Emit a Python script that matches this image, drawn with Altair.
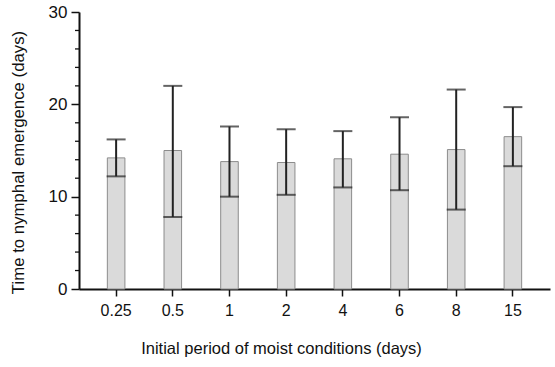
import altair as alt
import pandas as pd

periods = ["0.25", "0.5", "1", "2", "4", "6", "8", "15"]
means = [14.2, 15.0, 13.8, 13.7, 14.1, 14.6, 15.1, 16.5]
upper = [16.2, 22.0, 17.6, 17.3, 17.1, 18.6, 21.6, 19.7]
lower = [12.2, 7.8, 10.0, 10.2, 11.0, 10.7, 8.6, 13.3]
y_major = [0, 10, 20, 30]
y_minor = [2, 4, 6, 8, 12, 14, 16, 18, 22, 24, 26, 28]

df = pd.DataFrame({"period": periods, "mean": means, "upper": upper, "lower": lower})
df_minor = pd.DataFrame({"v": y_minor})

FONT = "Liberation Sans"

x = alt.X(
    "period:N",
    sort=periods,
    scale=alt.Scale(paddingInner=0.69, paddingOuter=0.5),
    axis=alt.Axis(
        title="Initial period of moist conditions (days)",
        labelAngle=0,
        domainColor="#111",
        domainWidth=2,
        tickColor="#111",
        tickWidth=1.5,
        tickSize=7,
        labelPadding=6,
        labelFontSize=16,
        labelColor="#111",
        labelFont=FONT,
        titleFont=FONT,
        titleFontSize=16.5,
        titleFontWeight="normal",
        titleColor="#111",
        titlePadding=22,
        titleX=202,
        titleAlign="center",
    ),
)

yscale = alt.Scale(domain=[0, 30], nice=False)

base = alt.Chart(df)

bars = base.mark_bar(color="#dadada", stroke="#8c8c8c", strokeWidth=1).encode(
    x=x,
    y=alt.Y(
        "mean:Q",
        scale=yscale,
        axis=alt.Axis(
            orient="left",
            title="Time to nymphal emergence (days)",
            values=y_major,
            grid=False,
            domainColor="#111",
            domainWidth=2,
            tickColor="#111",
            tickWidth=1.5,
            tickSize=8,
            labelPadding=4,
            labelFontSize=17,
            labelColor="#111",
            labelFont=FONT,
            titleFont=FONT,
            titleFontSize=16.8,
            titleFontWeight="normal",
            titleColor="#111",
            titlePadding=21,
            titleY=150,
        ),
    ),
)

minor = alt.Chart(df_minor).mark_rule(color="#111", strokeWidth=1.3).encode(
    y=alt.Y("v:Q", scale=yscale, axis=None),
    x=alt.value(-4),
    x2=alt.value(0),
)

rules = base.mark_rule(color="#222", strokeWidth=2).encode(
    x=alt.X("period:N", sort=periods),
    y=alt.Y("lower:Q", scale=yscale, axis=None),
    y2="upper:Q",
)

cap_hi = base.mark_tick(color="#222", thickness=2, size=19).encode(
    x=alt.X("period:N", sort=periods),
    y=alt.Y("upper:Q", scale=yscale, axis=None),
)
cap_lo = base.mark_tick(color="#222", thickness=2, size=19).encode(
    x=alt.X("period:N", sort=periods),
    y=alt.Y("lower:Q", scale=yscale, axis=None),
)

chart = (
    alt.layer(bars, rules, cap_hi, cap_lo, minor)
    .resolve_axis(y="independent")
    .properties(
        width=471,
        height=277,
        autosize=alt.AutoSizeParams(type="none"),
        padding={"left": 79, "top": 12, "right": 5, "bottom": 78},
        background="white",
    )
    .configure_view(stroke=None)
)

chart.save("out.html", embed_options={"renderer": "svg", "actions": False})
